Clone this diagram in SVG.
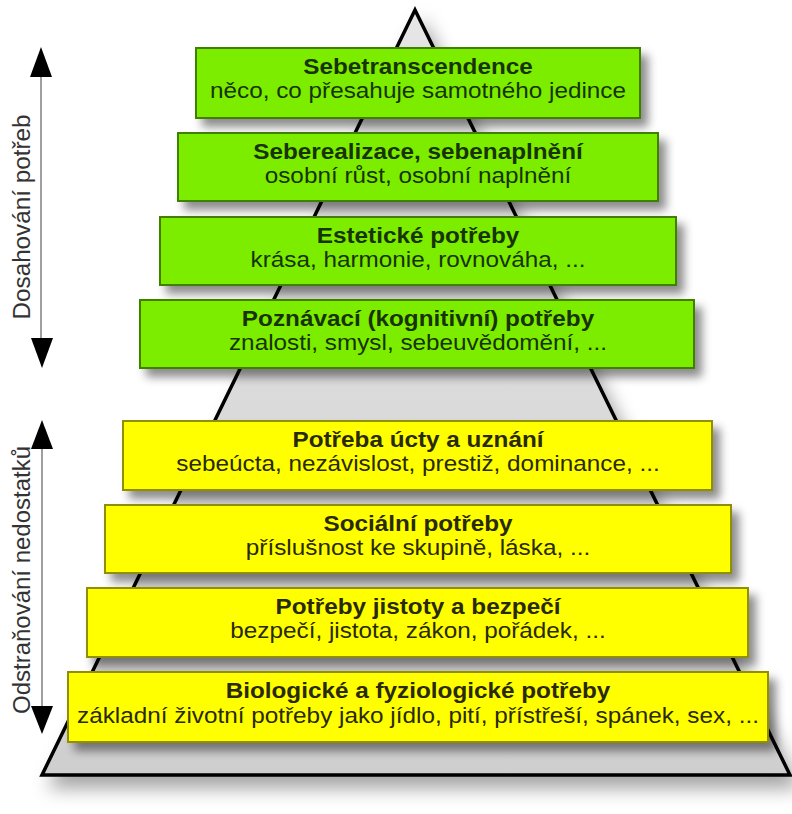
<svg xmlns="http://www.w3.org/2000/svg" width="792" height="814" viewBox="0 0 792 814">
  <defs>
    <linearGradient id="pyr" x1="0" y1="0" x2="0" y2="1">
      <stop offset="0" stop-color="#e6e6e6"/>
      <stop offset="1" stop-color="#cfcfcf"/>
    </linearGradient>
    <filter id="pyrShadow" x="-20%" y="-20%" width="140%" height="140%">
      <feDropShadow dx="8" dy="12" stdDeviation="9" flood-color="#000" flood-opacity="0.35"/>
    </filter>
    <filter id="boxShadow" x="-10%" y="-30%" width="125%" height="170%">
      <feDropShadow dx="7" dy="8" stdDeviation="5" flood-color="#000" flood-opacity="0.45"/>
    </filter>
    <marker id="ah" viewBox="0 0 22 30" refX="0" refY="15" markerWidth="22" markerHeight="30" markerUnits="userSpaceOnUse" orient="auto-start-reverse">
      <path d="M0,4 L30,15 L0,26 Z" fill="#000"/>
    </marker>
  </defs>
  <style>
    .green rect { fill: #7ded00; stroke: #3f7f00; stroke-width: 2; }
    .yellow rect { fill: #ffff00; stroke: #8f8f00; stroke-width: 2; }
    .green text { fill: #173400; }
    .yellow text { fill: #2a2a00; }
    text { font-family: "Liberation Sans", Arial, sans-serif; text-anchor: middle; }
    .t { font-size: 21.5px; font-weight: bold; }
    .s { font-size: 21.5px; }
    .side { font-size: 23px; fill: #333; }
    .axis { stroke: #888; stroke-width: 1.6; fill: none; }
    .head { fill: #000; }
  </style>

  <g id="pyramid">
    <polygon points="415,10 42,775 790,775" fill="url(#pyr)" stroke="#000" stroke-width="3.5" stroke-linejoin="miter" filter="url(#pyrShadow)"/>
  </g>

  <g id="connectors">
    <line class="axis" x1="41" y1="70" x2="41" y2="345"/>
    <polygon class="head" points="41,47 30,77 52,77"/>
    <polygon class="head" points="42,368 31,338 53,338"/>
    <line class="axis" x1="42" y1="440" x2="42" y2="712"/>
    <polygon class="head" points="42,420 31,449 53,449"/>
    <polygon class="head" points="42,734 31,706 53,706"/>
  </g>

  <g id="label-dosahovani">
    <text class="side" transform="translate(30 217) rotate(-90)" textLength="205" lengthAdjust="spacingAndGlyphs">Dosahování potřeb</text>
  </g>
  <g id="label-odstranovani">
    <text class="side" transform="translate(30 580) rotate(-90)" textLength="268" lengthAdjust="spacingAndGlyphs">Odstraňování nedostatků</text>
  </g>

  <g id="box1" class="green">
    <rect x="196" y="48" width="444" height="70" filter="url(#boxShadow)"/>
    <text class="t" transform="translate(418 74) scale(1.13 1)">Sebetranscendence</text>
    <text class="s" transform="translate(418 98) scale(1.13 1)">něco, co přesahuje samotného jedince</text>
  </g>
  <g id="box2" class="green">
    <rect x="178" y="133" width="480" height="68" filter="url(#boxShadow)"/>
    <text class="t" transform="translate(418 159) scale(1.13 1)">Seberealizace, sebenaplnění</text>
    <text class="s" transform="translate(418 183) scale(1.13 1)">osobní růst, osobní naplnění</text>
  </g>
  <g id="box3" class="green">
    <rect x="160" y="217" width="516" height="68" filter="url(#boxShadow)"/>
    <text class="t" transform="translate(418 243) scale(1.13 1)">Estetické potřeby</text>
    <text class="s" transform="translate(418 267) scale(1.13 1)">krása, harmonie, rovnováha, ...</text>
  </g>
  <g id="box4" class="green">
    <rect x="140" y="300" width="554" height="68" filter="url(#boxShadow)"/>
    <text class="t" transform="translate(418 326) scale(1.13 1)">Poznávací (kognitivní) potřeby</text>
    <text class="s" transform="translate(418 350) scale(1.13 1)">znalosti, smysl, sebeuvědomění, ...</text>
  </g>
  <g id="box5" class="yellow">
    <rect x="123" y="421" width="589" height="69" filter="url(#boxShadow)"/>
    <text class="t" transform="translate(418 447) scale(1.13 1)">Potřeba úcty a uznání</text>
    <text class="s" transform="translate(418 471) scale(1.13 1)">sebeúcta, nezávislost, prestiž, dominance, ...</text>
  </g>
  <g id="box6" class="yellow">
    <rect x="105" y="505" width="626" height="68" filter="url(#boxShadow)"/>
    <text class="t" transform="translate(418 531) scale(1.13 1)">Sociální potřeby</text>
    <text class="s" transform="translate(418 555) scale(1.13 1)">příslušnost ke skupině, láska, ...</text>
  </g>
  <g id="box7" class="yellow">
    <rect x="87" y="588" width="661" height="69" filter="url(#boxShadow)"/>
    <text class="t" transform="translate(418 614) scale(1.13 1)">Potřeby jistoty a bezpečí</text>
    <text class="s" transform="translate(418 638) scale(1.13 1)">bezpečí, jistota, zákon, pořádek, ...</text>
  </g>
  <g id="box8" class="yellow">
    <rect x="68" y="672" width="700" height="70" filter="url(#boxShadow)"/>
    <text class="t" transform="translate(418 698) scale(1.13 1)">Biologické a fyziologické potřeby</text>
    <text class="s" transform="translate(418 723) scale(1.13 1)">základní životní potřeby jako jídlo, pití, přístřeší, spánek, sex, ...</text>
  </g>
</svg>
